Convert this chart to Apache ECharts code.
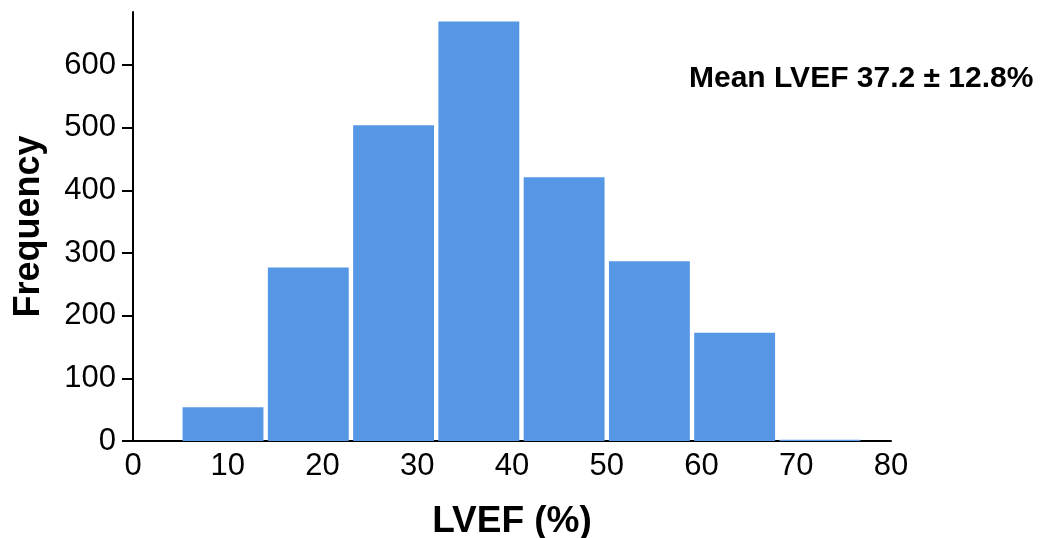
<!DOCTYPE html>
<html>
<head>
<meta charset="utf-8">
<script src="https://cdn.jsdelivr.net/npm/echarts@6/dist/echarts.min.js"></script>
<style>
  html, body { margin: 0; padding: 0; background: #fff; }
  #chart { width: 1042px; height: 538px; }
</style>
</head>
<body>
<div id="chart"></div>
<script>
// LVEF histogram: bin edges (%) and patient counts per bin
const binStarts = [5, 14, 23, 32, 41, 50, 59, 68];
const binWidth = 9;
const counts = [54, 277, 504, 670, 421, 287, 173, 2];
const yTicks = [0, 100, 200, 300, 400, 500, 600];
const xTicks = [0, 10, 20, 30, 40, 50, 60, 70, 80];
const annotation = 'Mean LVEF 37.2 \u00b1 12.8%';

const FONT = '"Liberation Sans", Arial, Helvetica, sans-serif';
const chart = echarts.init(document.getElementById('chart'), null, { renderer: 'canvas' });

const data = binStarts.map((s, i) => [s, s + binWidth, counts[i]]);

chart.setOption({
  animation: false,
  backgroundColor: '#ffffff',
  grid: { left: 133, right: 151, top: 12, bottom: 97, containLabel: false, outerBoundsMode: 'none' },
  xAxis: {
    type: 'value',
    min: 0,
    max: 80,
    interval: 10,
    name: 'LVEF (%)',
    nameLocation: 'middle',
    nameGap: 62,
    nameTextStyle: { fontFamily: FONT, fontSize: 37, fontWeight: 'bold', color: '#000' },
    axisLine: { show: true, lineStyle: { color: '#000', width: 2 } },
    axisTick: { show: false },
    splitLine: { show: false },
    axisLabel: {
      customValues: xTicks,
      fontFamily: FONT, fontSize: 31, color: '#000', margin: 10
    }
  },
  yAxis: {
    type: 'value',
    min: 0,
    max: 685,
    name: 'Frequency',
    nameLocation: 'middle',
    nameGap: 86,
    nameTextStyle: { fontFamily: FONT, fontSize: 36, fontWeight: 'bold', color: '#000' },
    axisLine: { show: true, lineStyle: { color: '#000', width: 2 } },
    axisTick: { show: true, inside: false, customValues: yTicks, length: 11, lineStyle: { color: '#000', width: 2 } },
    splitLine: { show: false },
    axisLabel: {
      customValues: yTicks,
      fontFamily: FONT, fontSize: 31, color: '#000', margin: 17
    }
  },
  series: [{
    type: 'custom',
    data: data,
    encode: { x: [0, 1], y: 2 },
    renderItem: function (params, api) {
      const p0 = api.coord([api.value(0), api.value(2)]);
      const p1 = api.coord([api.value(1), 0]);
      const inset = 2.2;
      return {
        type: 'rect',
        shape: {
          x: p0[0] + inset,
          y: p0[1],
          width: p1[0] - p0[0] - 2 * inset,
          height: p1[1] - p0[1]
        },
        style: { fill: '#5597e5' }
      };
    },
    z: 1
  }],
  graphic: [{
    type: 'text',
    left: 689,
    top: 64,
    style: {
      text: annotation,
      fontFamily: FONT,
      fontSize: 30,
      fontWeight: 'bold',
      fill: '#000'
    }
  }]
});
</script>
</body>
</html>
